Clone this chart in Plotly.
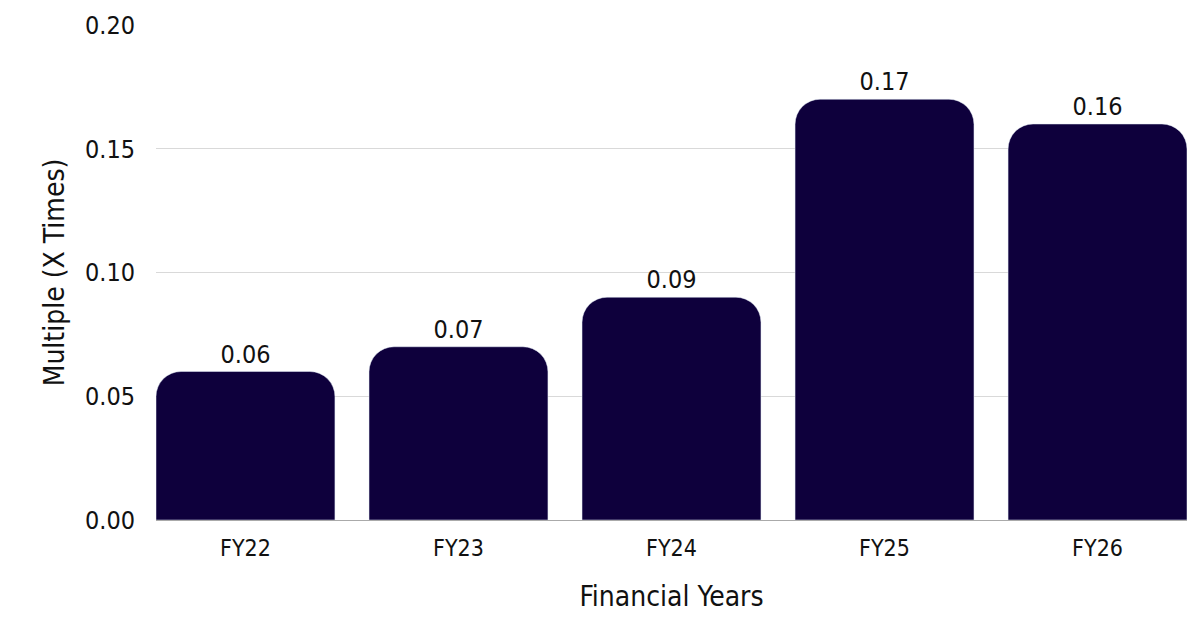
import plotly.graph_objects as go

categories = ["FY22", "FY23", "FY24", "FY25", "FY26"]
values = [0.06, 0.07, 0.09, 0.17, 0.16]
labels = ["0.06", "0.07", "0.09", "0.17", "0.16"]
y_ticks = [0.0, 0.05, 0.10, 0.15, 0.20]
y_ticklabels = ["0.00", "0.05", "0.10", "0.15", "0.20"]

FONT = "DejaVu Sans Condensed, DejaVu Sans, sans-serif"

fig = go.Figure(go.Bar(
    x=categories, y=values, text=labels, textposition="outside",
    marker=dict(color="#0e003c", cornerradius=25),
    textfont=dict(family=FONT, size=25, color="#111111"),
    cliponaxis=False,
))

fig.update_layout(
    width=1196, height=618,
    margin=dict(l=148, r=17, t=17, b=106, autoexpand=False),
    plot_bgcolor="white", paper_bgcolor="white",
    bargap=0.16,
    font=dict(family=FONT, color="#111111"),
    showlegend=False,
    xaxis=dict(
        title=dict(text="Financial Years", font=dict(size=28), standoff=26),
        tickfont=dict(size=23), showline=True, linecolor="#aaaaaa", linewidth=1,
        ticks="", showgrid=False, automargin=False, ticklabelstandoff=7,
        range=[-0.42, 4.42],
    ),
    yaxis=dict(
        title=dict(text="Multiple (X Times)", font=dict(size=28), standoff=12),
        range=[0, 0.2], tickvals=y_ticks, ticktext=y_ticklabels,
        tickfont=dict(size=25), showgrid=True, gridcolor="#d9d9d9", gridwidth=1,
        zeroline=False, ticks="", ticklabelstandoff=20, automargin=False,
    ),
)

fig.write_html("out.html")
